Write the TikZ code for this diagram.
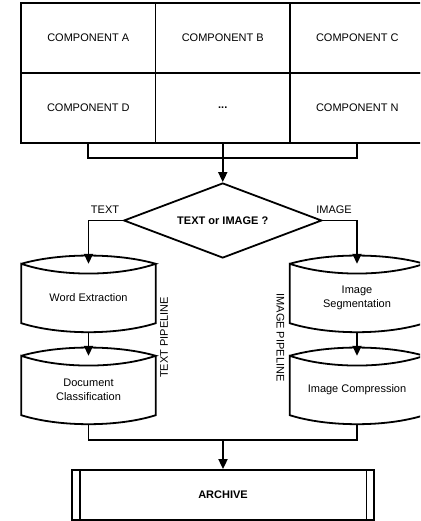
\documentclass[tikz,border=0pt]{standalone}
\usepackage{fontspec}
\setmainfont{Liberation Sans}
\usetikzlibrary{arrows.meta,shapes.geometric,calc}
\begin{document}
\begin{tikzpicture}[x=1pt,y=-1pt,
  line/.style={line width=1.8pt,line join=miter},
  arr/.style={line,-{Triangle[width=9pt,length=10pt]}},
  every node/.style={font=\fontsize{11}{13.5}\selectfont,inner sep=0pt},
  cell/.style={draw,line,minimum width=134.5,minimum height=70},
  cyl/.style={minimum width=134,minimum height=68,align=center},
  decision/.style={draw,line,diamond,shape aspect=2.64,minimum width=198,minimum height=75,font=\fontsize{11}{13.5}\selectfont\bfseries},
  store/.style={draw,line,minimum width=302,minimum height=50,font=\fontsize{11}{13.5}\selectfont\bfseries},
  lbl/.style={font=\fontsize{11}{13.5}\selectfont}]
\useasboundingbox (0,0) rectangle (420,521);
\clip (0,0) rectangle (420,521);

% component table
\node[cell] (cA) at (88.25,38) {COMPONENT A};
\node[cell] (cB) at (222.75,38) {COMPONENT B};
\node[cell] (cC) at (357.25,38) {COMPONENT C};
\node[cell] (cD) at (88.25,108) {COMPONENT D};
\node[cell] (cE) at (222.75,108) {\textbf{...}};
\node[cell] (cN) at (357.25,108) {COMPONENT N};

% decision
\node[decision] (dia) at (222.75,220.5) {TEXT or IMAGE ?};

% pipeline stages
\node[cyl] (we) at (88.5,298) {Word Extraction};
\node[cyl] (dc) at (88.5,390) {Document\\Classification};
\node[cyl] (is) at (357,298) {Image\\Segmentation};
\node[cyl] (ic) at (357,390) {Image Compression};

% stage outlines: lens-shaped top, bulging bottom
\foreach \n in {we,dc,is,ic} {
  \draw[line] (\n.north west) .. controls +(38,-11) and +(-38,-11) .. (\n.north east)
    .. controls +(-38,13) and +(38,13) .. (\n.north west)
    -- ($(\n.south west)+(0,-9)$)
    .. controls +(38,12) and +(-38,12) .. ($(\n.south east)+(0,-9)$)
    -- (\n.north east);
}

% archive
\node[store] (ar) at (223,495) {ARCHIVE};
\draw[line] ([xshift=8.5]ar.north west) -- ([xshift=8.5]ar.south west);
\draw[line] ([xshift=-8.5]ar.north east) -- ([xshift=-8.5]ar.south east);

% connectors
\draw[line] (cD.south) -- ++(0,14) -| (cN.south);
\draw[arr] (cE.south) -- (dia.north);
\draw[arr] (dia.west) -| (we.north);
\draw[arr] (dia.east) -| (is.north);
\draw[arr] (we.south) -- (dc.north);
\draw[arr] (is.south) -- (ic.north);
\draw[line] (dc.south) -- ++(0,16) coordinate (mL) -| (ic.south);
\coordinate (m) at (mL -| ar.north);
\draw[arr] (m) -- (ar.north);

% labels
\node[lbl] (tT) at (105,209.5) {TEXT};
\node[lbl] (tI) at (334,209.5) {IMAGE};
\node[lbl,rotate=90] (tp) at (164,337.5) {TEXT PIPELINE};
\node[lbl,rotate=-90] (ip) at (280.5,337.5) {IMAGE PIPELINE};
\end{tikzpicture}
\end{document}
